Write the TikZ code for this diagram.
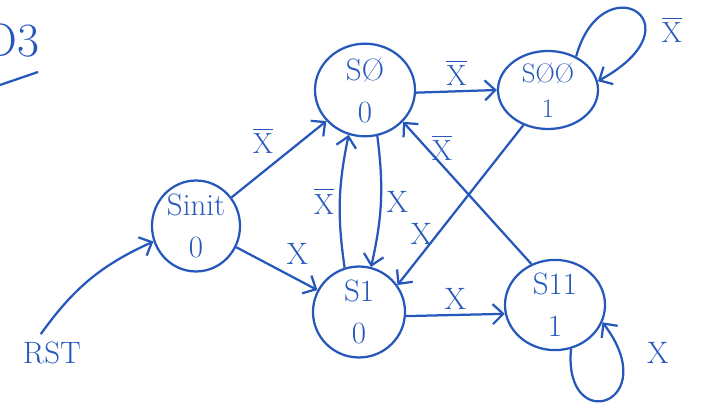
\documentclass[tikz,border=0pt]{standalone}
\usepackage{amsmath, amssymb}
\usepackage{xcolor}
\usetikzlibrary{shapes.geometric, arrows.meta}
\definecolor{penblue}{RGB}{38,88,188}

\begin{document}
\begin{tikzpicture}[
    x=0.025cm, y=0.025cm,
    state/.style={draw=penblue, ellipse, line width=1.6pt, inner sep=0pt,
      align=center, text=penblue, font=\fontsize{22}{24}\selectfont},
    lbl/.style={text=penblue, font=\fontsize{22}{24}\selectfont},
    arrow/.style={line width=1.6pt, draw=penblue,
      -{Straight Barb[length=2.6mm,width=5mm]}}
]
\useasboundingbox (0,0) rectangle (702,405);

% heading
\node[text=penblue, font=\fontsize{34}{38}\selectfont, anchor=east] (title) at (44,364) {D3};
\coordinate (ulA) at (0,320);
\coordinate (ulB) at (38,333);
\draw[penblue, line width=1.6pt] (ulA) -- (ulB);

% states
\node[state, minimum width=2.2cm, minimum height=2.25cm] (sinit) at (196,179) {Sinit\\[6pt]0};
\node[state, minimum width=2.5cm, minimum height=2.25cm] (s0) at (365,315) {SØ\\[6pt]0};
\node[state, minimum width=2.5cm, minimum height=1.95cm, font=\fontsize{19}{21}\selectfont] (s00) at (548,315) {SØØ\\[4pt]1};
\node[state, minimum width=2.3cm, minimum height=2.15cm] (s1) at (359,93) {S1\\[6pt]0};
\node[state, minimum width=2.5cm, minimum height=2.1cm] (s11) at (555,100) {S11\\[6pt]1};
\node[lbl] (rst) at (52,52) {RST};

% transitions
\draw[arrow] ([xshift=-8pt,yshift=2pt]rst.north) to[bend left=15] (sinit.200);
\draw[arrow] (sinit) -- node[lbl, above left] {$\overline{\mathrm{X}}$} (s0);
\draw[arrow] (sinit) -- node[lbl, above right, pos=0.55] {X} (s1);
\draw[arrow] (s0.285) to[bend left=10] node[lbl, right] {X} (s1.75);
\draw[arrow] (s1.108) to[bend left=10] node[lbl, left] {$\overline{\mathrm{X}}$} (s0.250);
\draw[arrow] (s0.-3) -- node[lbl, above] {$\overline{\mathrm{X}}$} (s00.180);
\draw[arrow] (s00.50) .. controls +(26,94) and +(105,58) .. (s00.10)
  node[lbl, pos=0.68, right=8pt] {$\overline{\mathrm{X}}$};
\draw[arrow] (s00.235) -- node[lbl, pos=0.68, left] {X} (s1.35);
\draw[arrow] (s1.-5) -- node[lbl, above] {X} (s11.190);
\draw[arrow] (s11.120) -- node[lbl, pos=0.82, right] {$\overline{\mathrm{X}}$} (s0.-40);
\draw[arrow] (s11.-70) .. controls +(-8,-88) and +(62,-82) .. (s11.-20)
  node[lbl, pos=0.82, right=14pt, yshift=6pt] {X};
\end{tikzpicture}
\end{document}
